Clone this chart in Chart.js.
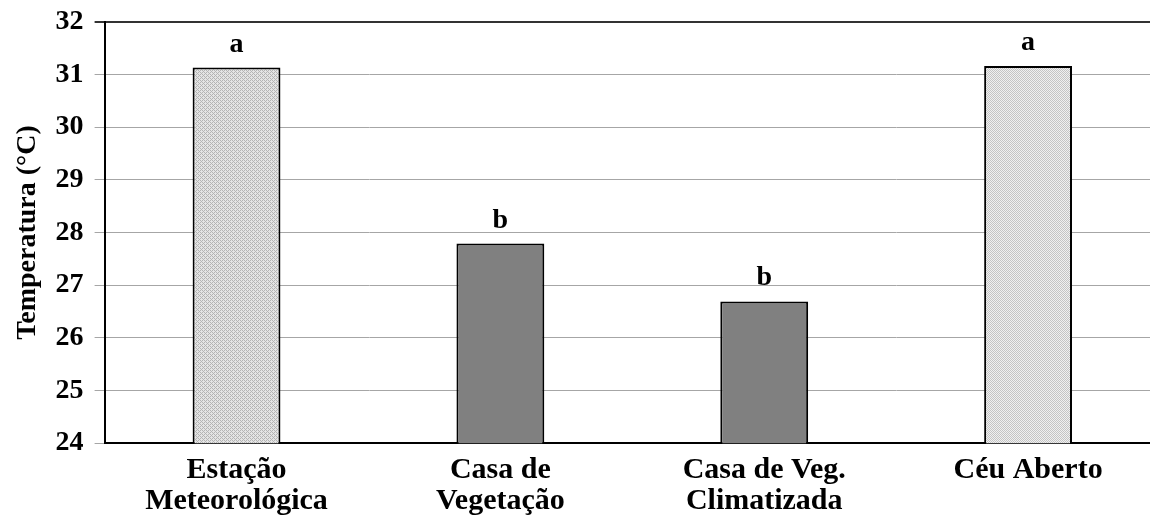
<!DOCTYPE html>
<html>
<head>
<meta charset="utf-8">
<script src="https://cdn.jsdelivr.net/npm/chart.js@4/dist/chart.umd.min.js"></script>
<style>
  html, body { margin: 0; padding: 0; background: #fff; overflow: hidden; }
  #wrap { width: 1160px; height: 519px; }
</style>
</head>
<body>
<div id="wrap"><canvas id="c" width="1160" height="519"></canvas></div>
<script>
// Mean air temperature by growing environment
const categories = [
  ['Estação', 'Meteorológica'],
  ['Casa de', 'Vegetação'],
  ['Casa de Veg.', 'Climatizada'],
  ['Céu Aberto']
];
const temperatures = [31.13, 27.79, 26.69, 31.16];
const letters = ['a', 'b', 'b', 'a'];
const yTicks = [24, 25, 26, 27, 28, 29, 30, 31, 32];

const FONT = '"Liberation Serif", "Times New Roman", serif';

// Fine stippled fills for the two outdoor bars
function makePattern(kind) {
  const p = document.createElement('canvas');
  p.width = 4; p.height = 4;
  const g = p.getContext('2d');
  if (kind === 'weave') {
    g.fillStyle = '#e4e4e4';
    g.fillRect(0, 0, 4, 4);
    g.fillStyle = '#b4b4b4';
    [[0,0],[1,1],[2,2],[3,3],[2,0],[0,2]].forEach(([x, y]) => g.fillRect(x, y, 1, 1));
  } else {
    g.fillStyle = '#f0f0f0';
    g.fillRect(0, 0, 4, 4);
    g.fillStyle = '#c4c4c4';
    [[0,0],[2,0],[1,1],[3,1],[0,2],[2,2],[1,3],[3,3]].forEach(([x, y]) => g.fillRect(x, y, 1, 1));
  }
  return g.createPattern(p, 'repeat');
}
const ctx0 = document.getElementById('c').getContext('2d');
const fills = [makePattern('weave'), '#808080', '#808080', makePattern('check')];

// Significance letters above each bar
const letterPlugin = {
  id: 'letters',
  afterDatasetsDraw(chart) {
    const meta = chart.getDatasetMeta(0);
    const ctx = chart.ctx;
    ctx.save();
    ctx.font = 'bold 28px ' + FONT;
    ctx.fillStyle = '#000';
    ctx.textAlign = 'center';
    ctx.textBaseline = 'alphabetic';
    meta.data.forEach((bar, i) => {
      ctx.fillText(letters[i], bar.x, bar.y - 16);
    });
    ctx.restore();
  }
};

new Chart(ctx0, {
  type: 'bar',
  data: {
    labels: categories,
    datasets: [{
      data: temperatures,
      backgroundColor: fills,
      borderColor: '#000',
      borderWidth: 2,
      borderSkipped: 'bottom',
      categoryPercentage: 1,
      barPercentage: 0.333
    }]
  },
  options: {
    responsive: false,
    animation: false,
    layout: { padding: { top: 0, right: 0, left: 3, bottom: -10 } },
    plugins: { legend: { display: false }, tooltip: { enabled: false } },
    scales: {
      x: {
        grid: { display: false, drawTicks: false },
        border: { color: '#000', width: 2 },
        ticks: {
          color: '#000',
          font: { family: FONT, size: 30, weight: 'bold', lineHeight: 1.03 },
          padding: 12,
          maxRotation: 0
        }
      },
      y: {
        min: 24,
        max: 32,
        afterBuildTicks(axis) { axis.ticks = yTicks.map(v => ({ value: v })); },
        grid: {
          color: ctx => (ctx.tick && ctx.tick.value === 32) ? '#333' : '#a6a6a6',
          lineWidth: ctx => (ctx.tick && ctx.tick.value === 32) ? 2 : 1,
          tickLength: 10
        },
        border: { color: '#000', width: 2 },
        ticks: {
          color: '#000',
          font: { family: FONT, size: 28, weight: 'bold', lineHeight: 0.77 },
          padding: 11
        },
        title: {
          display: true,
          text: 'Temperatura (°C)',
          color: '#000',
          font: { family: FONT, size: 28, weight: 'bold' },
          padding: { top: 8, bottom: 0 }
        }
      }
    }
  },
  plugins: [letterPlugin]
});
</script>
</body>
</html>
